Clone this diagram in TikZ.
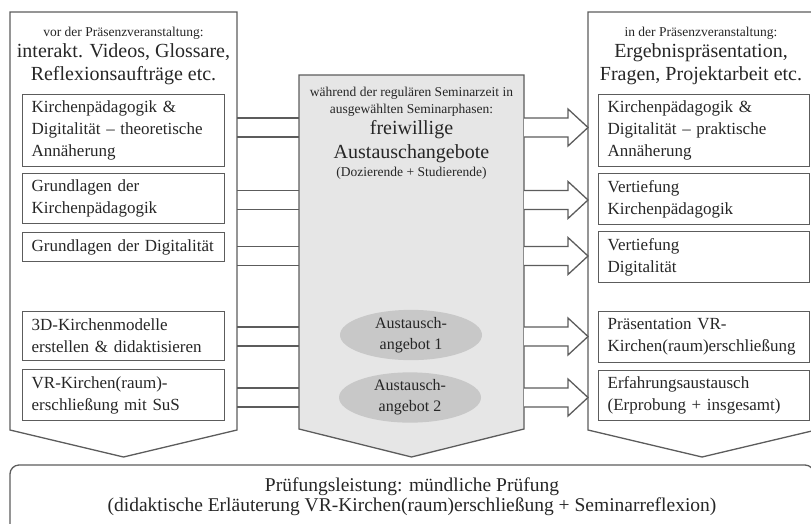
\documentclass[tikz,border=0pt]{standalone}
\usepackage{fontspec}
\setmainfont{Liberation Serif}
\usetikzlibrary{shapes.geometric,calc}
\definecolor{lc}{HTML}{5C5C5C}
\definecolor{tc}{HTML}{262626}
\definecolor{cf}{HTML}{E6E6E6}
\definecolor{ef}{HTML}{C8C8C8}
\begin{document}
\begin{tikzpicture}[x=1pt,y=-1pt,
  outl/.style={draw=lc, line width=1.3pt},
  ibox/.style={draw=lc, line width=1.3pt, rectangle, anchor=north west,
    inner xsep=9pt, inner ysep=0pt, align=left, text=tc,
    font=\fontsize{17}{22}\selectfont},
  lbox/.style={ibox, minimum width=202pt, text width=184pt},
  rbox/.style={ibox, minimum width=211pt, text width=193pt},
  smalltxt/.style={text=tc, align=center, inner sep=0pt, font=\fontsize{13.5}{17}\selectfont},
  bigtxt/.style={text=tc, align=center, inner sep=0pt, font=\fontsize{20}{23}\selectfont},
  ell/.style={ellipse, fill=ef, draw=none, minimum width=142pt, minimum height=48pt,
    inner sep=0pt, align=center, text=tc, font=\fontsize{16}{21}\selectfont},
  shaft/.style={draw=lc, line width=1.3pt},
  blockarrow/.style={draw=lc, line width=1.3pt, fill=white, line join=miter}
]
\useasboundingbox (0,0) rectangle (811,523);

% bottom exam box
\draw[outl, rounded corners=9pt] (10,465) rectangle (814,540);
\node[bigtxt, font=\fontsize{19.5}{20}\selectfont] (exam) at (412,497)
  {Prüfungsleistung: mündliche Prüfung\\(didaktische Erläuterung VR-Kirchen(raum)erschließung + Seminarreflexion)};

% pentagons
\draw[outl] (10,12) -- (237,12) -- (237,430) -- (123.5,457) -- (10,430) -- cycle;
\draw[outl, fill=cf] (299,75) -- (524,75) -- (524,429) -- (411.5,457) -- (299,429) -- cycle;
\draw[outl] (588,12) -- (816,12) -- (816,430) -- (702,457) -- (588,430) -- cycle;

% edge coordinates
\coordinate (Le) at (237,0);
\coordinate (Cl) at (299,0);
\coordinate (Cr) at (524,0);
\coordinate (Rl) at (588,0);

% left header
\node[smalltxt] (lh1) at (123.5,33) {vor der Präsenzveranstaltung:};
\node[bigtxt] (lh2) at (123.5,64.5) {interakt. Videos, Glossare,\\Reflexionsaufträge etc.};

% right header
\node[smalltxt] (rh1) at (701,33) {in der Präsenzveranstaltung:};
\node[bigtxt] (rh2) at (701,64.5) {Ergebnispräsentation,\\Fragen, Projektarbeit etc.};

% center header
\node[smalltxt] (ch1) at (411.5,101.5) {während der regulären Seminarzeit in\\ausgewählten Seminarphasen:};
\node[bigtxt, font=\fontsize{20}{24}\selectfont] (ch2) at (411.5,142) {freiwillige\\Austauschangebote};
\node[smalltxt] (ch3) at (411.5,173.5) {(Dozierende + Studierende)};

% left boxes
\node[lbox, minimum height=72pt] (L1) at (22,94) {Kirchenpädagogik \&\\Digitalität – theoretische\\Annäherung};
\node[lbox, minimum height=50pt] (L2) at (22,173) {Grundlagen der\\Kirchenpädagogik};
\node[lbox, minimum height=29pt] (L3) at (22,232) {Grundlagen der Digitalität};
\node[lbox, minimum height=49pt] (L4) at (22,311) {3D-Kirchenmodelle\\erstellen \& didaktisieren};
\node[lbox, minimum height=51pt] (L5) at (22,369) {VR-Kirchen(raum)-\\erschließung mit SuS};

% right boxes
\node[rbox, minimum height=72pt] (R1) at (598,94) {Kirchenpädagogik \&\\Digitalität – praktische\\Annäherung};
\node[rbox, minimum height=51pt] (R2) at (598,173) {Vertiefung\\Kirchenpädagogik};
\node[rbox, minimum height=51pt] (R3) at (598,231) {Vertiefung\\Digitalität};
\node[rbox, minimum height=51pt] (R4) at (598,311) {Präsentation VR-\\Kirchen(raum)erschließung};
\node[rbox, minimum height=50pt] (R5) at (598,370) {Erfahrungsaustausch\\(Erprobung + insgesamt)};

% ellipses
\node[ell] (E1) at (411,335) {Austausch-\\angebot 1};
\node[ell] (E2) at (410,397.5) {Austausch-\\angebot 2};

% connectors
\foreach \c in {127.5,200,256,336.5,397.5}{
  \draw[shaft] (Le |- 0,\c-9.5) -- (Cl |- 0,\c-9.5);
  \draw[shaft] (Le |- 0,\c+9.5) -- (Cl |- 0,\c+9.5);
  \draw[blockarrow] (Cr |- 0,\c-9.5) -- ($(Rl |- 0,\c-9.5)+(-20,0)$)
    -- ($(Rl |- 0,\c-18.5)+(-20,0)$) -- (Rl |- 0,\c)
    -- ($(Rl |- 0,\c+18.5)+(-20,0)$) -- ($(Rl |- 0,\c+9.5)+(-20,0)$)
    -- (Cr |- 0,\c+9.5);
}
\end{tikzpicture}
\end{document}
